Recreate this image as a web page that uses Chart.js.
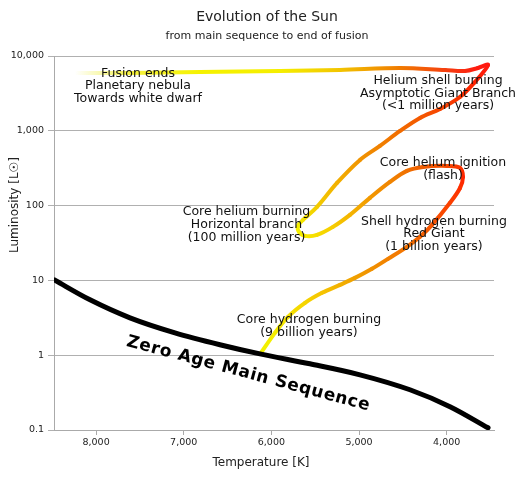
<!DOCTYPE html>
<html>
<head>
<meta charset="utf-8">
<script src="https://cdn.jsdelivr.net/npm/chart.js@4/dist/chart.umd.min.js"></script>
<style>
  html, body { margin: 0; padding: 0; background: #fff; }
</style>
</head>
<body>
<canvas id="hr" width="515" height="480"></canvas>
<script>
var titleText = "Evolution of the Sun";
var subtitleText = "from main sequence to end of fusion";

// zero age main sequence
var zamsTemp = [8480, 8069, 7613, 7100, 6587, 6130, 5560, 4989, 4419, 3962, 3528];
var zamsLum = [10.2, 5.5, 3.16, 1.99, 1.38, 1.04, 0.767, 0.547, 0.345, 0.205, 0.107];

// evolutionary track of the sun
var trackTemp = [6118, 5959, 5810, 5616, 5422, 5217, 5046, 4852, 4669, 4453,
  4304, 4167, 3962, 3848, 3814, 3848, 3996, 4270, 4453, 4647,
  4875, 5103, 5297, 5479, 5616, 5685, 5696, 5639, 5479, 5251,
  4989, 4761, 4532, 4304, 4076, 3848, 3688, 3528, 3643, 3791,
  4019, 4532, 5217, 5902, 6814, 7613, 7955, 8240];
var trackLum = [1.08, 1.99, 3.26, 5.01, 6.82, 8.72, 10.8, 14.3, 19.4, 28.1,
  38.2, 55.2, 109, 172, 242, 319, 339, 329, 291, 207,
  127, 75.1, 51.9, 40.6, 39.4, 44.6, 53.6, 64.4, 96.1, 201,
  408, 628, 995, 1486, 1959, 2832, 4357, 7585, 6918, 6310,
  6506, 6918, 6506, 6310, 6110, 5930, 5930, 5930];
var trackColors = ["#f2f200", "#f4ec00", "#f5e200", "#f5d400", "#f5c400", "#f2b000", "#f0a000", "#f09000", "#f28000", "#f47200",
  "#f66400", "#f85400", "#fb4000", "#fd3000", "#ff2400", "#fa3400", "#f54800", "#f05c00", "#f07000", "#f08400",
  "#f29800", "#f4b400", "#f6cc00", "#f6dc00", "#f6e800", "#f5f000", "#f5f000", "#f4e400", "#f3cc00", "#f2b000",
  "#f09400", "#f08000", "#f26c00", "#f45800", "#f74400", "#fa3200", "#fd2200", "#ff1a10", "#ff1a10", "#fa2a10",
  "#f54010", "#f07a00", "#f2c400", "#f5ee00", "#f5f200", "#f6f240", "#f9f9b0", "#ffffff"];

var xTicks = [8000, 7000, 6000, 5000, 4000];
var yTicks = [0.1, 1, 10, 100, 1000, 10000];

// text notes, anchored in data space (temperature, luminosity)
var notes = [
  { t: 7522, l: 5840, lines: ["Fusion ends", "Planetary nebula", "Towards white dwarf"] },
  { t: 4099, l: 4677, lines: ["Helium shell burning", "Asymptotic Giant Branch", "(<1 million years)"] },
  { t: 4042, l: 375, lines: ["Core helium ignition", "(flash)"] },
  { t: 6284, l: 81.6, lines: ["Core helium burning", "Horizontal branch", "(100 million years)"] },
  { t: 4145, l: 61.1, lines: ["Shell hydrogen burning", "Red Giant", "(1 billion years)"] },
  { t: 5571, l: 2.97, lines: ["Core hydrogen burning", "(9 billion years)"] }
];
var zamsLabel = { t: 7660, l: 1.34, text: "Zero Age Main Sequence" };

function pts(xs, ys) {
  return xs.map(function (v, i) { return { x: v, y: ys[i] }; });
}

var textPlugin = {
  id: "hrText",
  afterLayout: function (chart) {
    // the titles sit a bit left of the plot centre
    chart.boxes.forEach(function (b) {
      if (b.options && (b.options.text === titleText || b.options.text === subtitleText)) {
        b.left = chart.chartArea.left - 14;
      }
    });
  },
  afterDatasetsDraw: function (chart) {
    var ctx = chart.ctx, sx = chart.scales.x, sy = chart.scales.y;
    ctx.save();
    ctx.fillStyle = "#111";
    ctx.font = '12.5px "DejaVu Sans"';
    ctx.textAlign = "center";
    ctx.textBaseline = "middle";
    notes.forEach(function (n) {
      var px = sx.getPixelForValue(n.t), py = sy.getPixelForValue(n.l);
      n.lines.forEach(function (s, i) { ctx.fillText(s, px, py + i * 12.6); });
    });

    ctx.font = '12px "DejaVu Sans"';
    ctx.fillStyle = "#222";
    ctx.fillText("Temperature [K]", (chart.chartArea.left + chart.chartArea.right) / 2 - 13, 463);
    ctx.save();
    ctx.translate(15, 205);
    ctx.rotate(-Math.PI / 2);
    ctx.fillText("Luminosity [L\u2609]", 0, 0);
    ctx.restore();

    ctx.fillStyle = "#000";
    ctx.font = 'bold 17px "DejaVu Sans"';
    ctx.textAlign = "left";
    ctx.textBaseline = "alphabetic";
    ctx.letterSpacing = "0.6px";
    ctx.translate(sx.getPixelForValue(zamsLabel.t), sy.getPixelForValue(zamsLabel.l));
    ctx.rotate(15 * Math.PI / 180);
    ctx.fillText(zamsLabel.text, 0, 0);
    ctx.restore();
  }
};

Chart.defaults.font.family = '"DejaVu Sans"';
Chart.defaults.color = "#222";

new Chart(document.getElementById("hr").getContext("2d"), {
  type: "scatter",
  data: {
    datasets: [
      {
        label: "ZAMS",
        data: pts(zamsTemp, zamsLum),
        showLine: true,
        borderColor: "#000",
        borderWidth: 5,
        pointRadius: 0,
        cubicInterpolationMode: "monotone",
        borderCapStyle: "round",
      },
      {
        label: "Sun",
        data: pts(trackTemp, trackLum),
        showLine: true,
        borderColor: "#f5c400",
        borderWidth: 4,
        pointRadius: 0,
        tension: 0.35,
        borderCapStyle: "round",
        borderJoinStyle: "round",
        segment: {
          borderColor: function (c) {
            var g = c.chart.ctx.createLinearGradient(c.p0.x, c.p0.y, c.p1.x, c.p1.y);
            g.addColorStop(0, trackColors[c.p0DataIndex]);
            g.addColorStop(1, trackColors[c.p1DataIndex]);
            return g;
          },
          borderDashOffset: function (c) { return c.p0DataIndex; },
        },
      },
    ],
  },
  options: {
    responsive: false,
    animation: false,
    layout: { padding: { left: 0, right: 21, top: 0, bottom: 0 } },
    plugins: {
      legend: { display: false },
      tooltip: { enabled: false },
      title: {
        display: true,
        text: titleText,
        fullSize: false,
        color: "#222",
        font: { size: 14, weight: "normal" },
        padding: { top: 9, bottom: 0 },
      },
      subtitle: {
        display: true,
        text: subtitleText,
        fullSize: false,
        color: "#222",
        font: { size: 11 },
        padding: { top: 3.6, bottom: 13.4 },
      },
    },
    scales: {
      x: {
        type: "linear",
        reverse: true,
        min: 3460,
        max: 8480,
        afterFit: function (s) { s.height = 50; },
        afterBuildTicks: function (s) {
          s.ticks = xTicks.map(function (v) { return { value: v }; });
        },
        grid: { drawOnChartArea: false, drawTicks: true, tickLength: 5, color: "#aaa" },
        border: { color: "#aaa" },
        ticks: {
          padding: 2,
          font: { size: 9.5 },
          callback: function (v) { return v.toLocaleString("en-US"); },
        },
      },
      y: {
        type: "logarithmic",
        min: 0.1,
        max: 10000,
        afterFit: function (s) { s.width = 54; },
        afterBuildTicks: function (s) {
          s.ticks = yTicks.map(function (v) { return { value: v }; });
        },
        grid: { color: "#b0b0b0", tickLength: 6 },
        border: { color: "#aaa" },
        ticks: {
          padding: 4,
          font: { size: 9.5 },
          callback: function (v) { return v.toLocaleString("en-US"); },
        },
      },
    },
  },
  plugins: [textPlugin],
});
</script>
</body>
</html>
